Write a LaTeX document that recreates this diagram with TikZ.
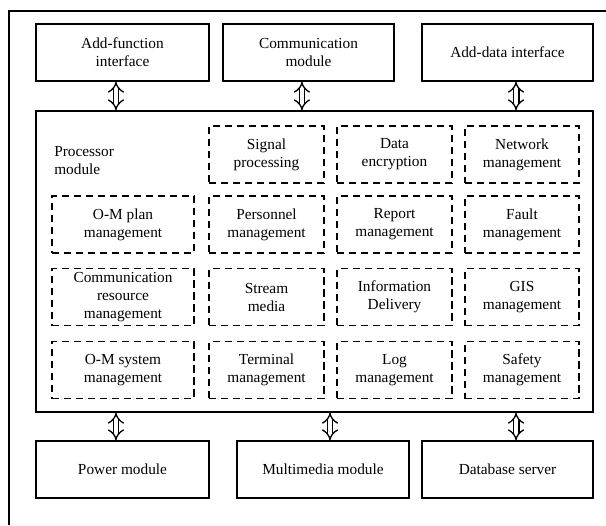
\documentclass[tikz,border=0pt]{standalone}
\usepackage{fontspec}
\setmainfont{Liberation Serif}
\usetikzlibrary{arrows.meta, positioning}

\tikzset{
	module/.style={draw, line width=1.2pt, minimum height=42.75pt, align=center, inner sep=1pt, font=\fontsize{11.5}{13.5}\selectfont},
	task/.style={draw, line width=1.3pt, dash pattern=on 5.5pt off 3.5pt, minimum height=42.75pt, align=center, inner sep=1pt, font=\fontsize{11.5}{13.5}\selectfont},
	link/.style={double, double distance=3.2pt, line width=1pt, {Implies}-{Implies}}
}

\begin{document}
\begin{tikzpicture}[x=0.75pt, y=-0.75pt]
		
		\useasboundingbox (0,0) rectangle (606,525);
		
		%frame
		\draw[line width=1.2pt] (9,525) -- (9,11) -- (606,11);
		
		%top row
		\node[module, minimum width=129.75pt] (addfun) at (122.5,52.5) {Add-function\\interface};
		\node[module, minimum width=128.25pt] (comm) at (308.5,52.5) {Communication\\module};
		\node[module, minimum width=128.25pt] (adddata) at (507.5,52.5) {Add-data interface};
		
		%processor
		\node[draw, line width=1.2pt, minimum width=417.75pt, minimum height=225.75pt] (proc) at (314.5,261.5) {};
		\node[anchor=west, align=left, inner sep=0pt, font=\fontsize{11.5}{13.5}\selectfont] (proclabel) at (54,161) {Processor\\module};
		
		%row 1
		\node[task, minimum width=86.25pt] (signal) at (266.5,154.5) {Signal\\processing};
		\node[task, minimum width=86.25pt] (encrypt) at (394.5,154.5) {Data\\encryption};
		\node[task, minimum width=85.5pt] (network) at (522,154.5) {Network\\management};
		%row 2
		\node[task, minimum width=106.5pt] (omplan) at (123,224.5) {O-M plan\\management};
		\node[task, minimum width=86.25pt] (personnel) at (266.5,224.5) {Personnel\\management};
		\node[task, minimum width=86.25pt] (report) at (394.5,224.5) {Report\\management};
		\node[task, minimum width=85.5pt] (fault) at (522,224.5) {Fault\\management};
		%row 3
		\node[task, minimum width=106.5pt] (commres) at (123,297) {Communication\\resource\\management};
		\node[task, minimum width=86.25pt] (stream) at (266.5,297) {Stream\\media};
		\node[task, minimum width=86.25pt] (infodel) at (394.5,297) {Information\\Delivery};
		\node[task, minimum width=85.5pt] (gis) at (522,297) {GIS\\management};
		%row 4
		\node[task, minimum width=106.5pt] (omsys) at (123,370) {O-M system\\management};
		\node[task, minimum width=86.25pt] (terminal) at (266.5,370) {Terminal\\management};
		\node[task, minimum width=86.25pt] (log) at (394.5,370) {Log\\management};
		\node[task, minimum width=85.5pt] (safety) at (522,370) {Safety\\management};
		
		%bottom row
		\node[module, minimum width=129.75pt] (power) at (122.5,469.5) {Power module};
		\node[module, minimum width=129pt] (media) at (323,469.5) {Multimedia module};
		\node[module, minimum width=128.25pt] (dbserver) at (507.5,469.5) {Database server};
		
		
		\draw[link] ([xshift=-4.9pt]addfun.south) -- ([xshift=-4.9pt]addfun.south |- proc.north);
		\draw[link] ([xshift=-4.9pt]comm.south) -- ([xshift=-4.9pt]comm.south |- proc.north);
		\draw[link] ([xshift=6.4pt]adddata.south) -- ([xshift=6.4pt]adddata.south |- proc.north);
		\draw[link] ([xshift=-4.9pt]power.north |- proc.south) -- ([xshift=-4.9pt]power.north);
		\draw[link] ([xshift=5.25pt]media.north |- proc.south) -- ([xshift=5.25pt]media.north);
		\draw[link] ([xshift=6.4pt]dbserver.north |- proc.south) -- ([xshift=6.4pt]dbserver.north);
		
		
\end{tikzpicture}
\end{document}
